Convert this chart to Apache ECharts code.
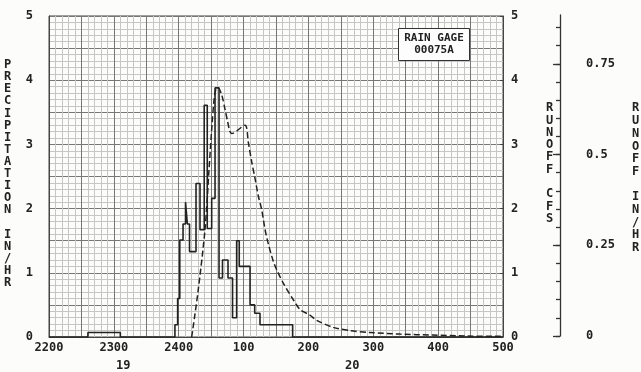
<!DOCTYPE html>
<html><head><meta charset="utf-8">
<script src="https://cdn.jsdelivr.net/npm/echarts@6/dist/echarts.min.js"></script>
<style>html,body{margin:0;padding:0;background:#fcfcfa;}#c{width:641px;height:372px;}</style>
</head><body><div id="c"></div>
<script>
// x values are minutes after 2200 on day 19
const tickLabels = ['2200','2300','2400','100','200','300','400','500'];
const dayLabels = ['19','20'];
// precipitation hyetograph: interval boundaries and rate (in/hr) within each interval
const precipBreaks = [0, 36, 66, 116.5, 119, 121, 124, 126.3, 128, 130, 136, 139.7, 143.6, 146.4, 150.5, 153.6, 157.3, 160.5, 165.6, 169.8, 173.6, 176, 186, 190.3, 195.2, 225.4, 420];
const precipRate   = [0, 0.07, 0, 0.19, 0.6, 1.51, 1.76, 2.1, 1.76, 1.33, 2.39, 1.67, 3.61, 1.69, 2.16, 3.88, 0.92, 1.2, 0.92, 0.3, 1.5, 1.1, 0.5, 0.37, 0.19, 0];
// runoff hydrograph (cfs)
const runoffTime = [132, 137.8, 144.3, 148, 150.8, 152.9, 155.1, 156.6, 159.8, 162.8, 165.3, 167.4, 169, 181.3, 184.4, 187.5, 190.6, 193.6, 196.8, 199.8, 202.9, 207.5, 210.6, 216.7, 226, 232.2, 241.4, 247.6, 263, 278.4, 296.9, 324.7, 355.2, 386.7, 414.4, 420];
const runoffCfs  = [0, 0.7, 1.67, 2.6, 3.3, 3.72, 3.88, 3.88, 3.77, 3.55, 3.35, 3.2, 3.17, 3.3, 3.03, 2.73, 2.47, 2.2, 1.98, 1.68, 1.45, 1.18, 1.05, 0.84, 0.58, 0.43, 0.34, 0.26, 0.15, 0.1, 0.07, 0.045, 0.03, 0.015, 0.01, 0.01];

const precipData = [];
for (let i = 0; i < precipRate.length; i++) {
  precipData.push([precipBreaks[i], precipRate[i]]);
  precipData.push([precipBreaks[i+1], precipRate[i]]);
}
const runoffData = runoffTime.map((t, i) => [t, runoffCfs[i]]);

const FONT = 'DejaVu Sans Mono';
const TXT = '#222';
const F12 = 'bold 12px ' + FONT;
const stack = words => words.map(s => s.split('').join('\n')).join('\n\n');
const chart = echarts.init(document.getElementById('c'), null, {renderer: 'canvas'});
const hiddenX = g => ({type: 'value', gridIndex: g, min: 0, max: 1, show: false});
const inhrTop = 15, inhrBottom = 336, pxPerUnit = 363;
const lbl = {fontFamily: FONT, fontSize: 12, fontWeight: 'bold', color: TXT};
chart.setOption({
  backgroundColor: '#fcfcfa',
  animation: false,
  grid: [
    {left: 49, top: 16, width: 454, height: 321, show: true, borderColor: '#444', borderWidth: 1},
    {left: 560, top: inhrTop, width: 17, height: inhrBottom - inhrTop},
    {left: 560, top: inhrBottom - 0.85 * pxPerUnit, width: 17, height: 0.85 * pxPerUnit},
    {left: 560, top: inhrBottom - 0.75 * pxPerUnit, width: 17, height: 0.75 * pxPerUnit}
  ],
  xAxis: [
    {type: 'value', gridIndex: 0, min: 0, max: 420, interval: 30,
     axisLine: {show: true, lineStyle: {color: '#444'}}, axisTick: {show: false},
     axisLabel: Object.assign({margin: 5, formatter: v => (v % 60 === 0 ? tickLabels[v / 60] : '')}, lbl),
     splitLine: {show: true, lineStyle: {color: '#777', width: 1}},
     minorTick: {show: false, splitNumber: 5},
     minorSplitLine: {show: true, lineStyle: {color: '#c6c6c6', width: 1}}},
    hiddenX(1), hiddenX(2), hiddenX(3)
  ],
  yAxis: [
    {type: 'value', gridIndex: 0, min: 0, max: 5, interval: 0.5, position: 'left',
     axisLine: {show: true, lineStyle: {color: '#444'}}, axisTick: {show: false},
     axisLabel: Object.assign({margin: 16, formatter: v => (v % 1 === 0 ? String(v) : '')}, lbl),
     splitLine: {show: true, lineStyle: {color: '#777', width: 1}},
     minorTick: {show: false, splitNumber: 5},
     minorSplitLine: {show: true, lineStyle: {color: '#c6c6c6', width: 1}}},
    {type: 'value', gridIndex: 0, min: 0, max: 5, interval: 1, position: 'right',
     axisLine: {show: true, lineStyle: {color: '#444'}},
     axisTick: {show: true, inside: true, length: 3, lineStyle: {color: '#444'}},
     axisLabel: Object.assign({margin: 8}, lbl),
     splitLine: {show: false}},
    {type: 'value', gridIndex: 1, min: 0, max: (inhrBottom - inhrTop) / pxPerUnit, position: 'right',
     axisLine: {show: true, lineStyle: {color: '#333', width: 1.3}}, axisTick: {show: false},
     axisLabel: {show: false}, splitLine: {show: false}},
    {type: 'value', gridIndex: 2, min: 0, max: 0.85, interval: 0.05, position: 'right',
     axisLine: {show: false},
     axisTick: {show: true, inside: true, length: 4, lineStyle: {color: '#333', width: 1.3}},
     axisLabel: {show: false}, splitLine: {show: false}},
    {type: 'value', gridIndex: 3, min: 0, max: 0.75, interval: 0.25, position: 'right',
     axisLine: {show: false},
     axisTick: {show: true, inside: true, length: 7, lineStyle: {color: '#333', width: 1.3}},
     axisLabel: Object.assign({margin: 9, formatter: v => String(v)}, lbl),
     splitLine: {show: false}}
  ],
  graphic: [
    {type: 'text', left: 4, top: 59, z: 100, style: {text: stack(['PRECIPITATION', 'IN/HR']), font: F12, fill: TXT, lineHeight: 12.1}},
    {type: 'text', left: 546, top: 102, z: 100, style: {text: stack(['RUNOFF', 'CFS']), font: F12, fill: TXT, lineHeight: 12.3}},
    {type: 'text', left: 632, top: 102, z: 100, style: {text: stack(['RUNOFF', 'IN/HR']), font: F12, fill: TXT, lineHeight: 12.7}},
    {type: 'text', left: 116, top: 360, z: 100, style: {text: dayLabels[0], font: F12, fill: TXT}},
    {type: 'text', left: 345, top: 360, z: 100, style: {text: dayLabels[1], font: F12, fill: TXT}},
    {type: 'group', left: 398, top: 28, z: 100, children: [
      {type: 'rect', z: 100, shape: {x: 0, y: 0, width: 71, height: 32}, style: {fill: '#fdfdfd', stroke: '#333', lineWidth: 1}},
      {type: 'text', z: 101, style: {x: 35.5, y: 10, text: 'RAIN GAGE', font: 'bold 11px ' + FONT, fill: TXT, align: 'center', verticalAlign: 'middle'}},
      {type: 'text', z: 101, style: {x: 35.5, y: 22, text: '00075A', font: 'bold 11px ' + FONT, fill: TXT, align: 'center', verticalAlign: 'middle'}}
    ]}
  ],
  series: [
    {name: 'Runoff', type: 'line', xAxisIndex: 0, yAxisIndex: 1, data: runoffData, smooth: 0.3,
     showSymbol: false, lineStyle: {color: '#222', width: 1.5, type: [6, 3]}, z: 3},
    {name: 'Precipitation', type: 'line', xAxisIndex: 0, yAxisIndex: 0, data: precipData,
     showSymbol: false, lineStyle: {color: '#222', width: 1.6}, z: 4}
  ]
});
</script></body></html>
